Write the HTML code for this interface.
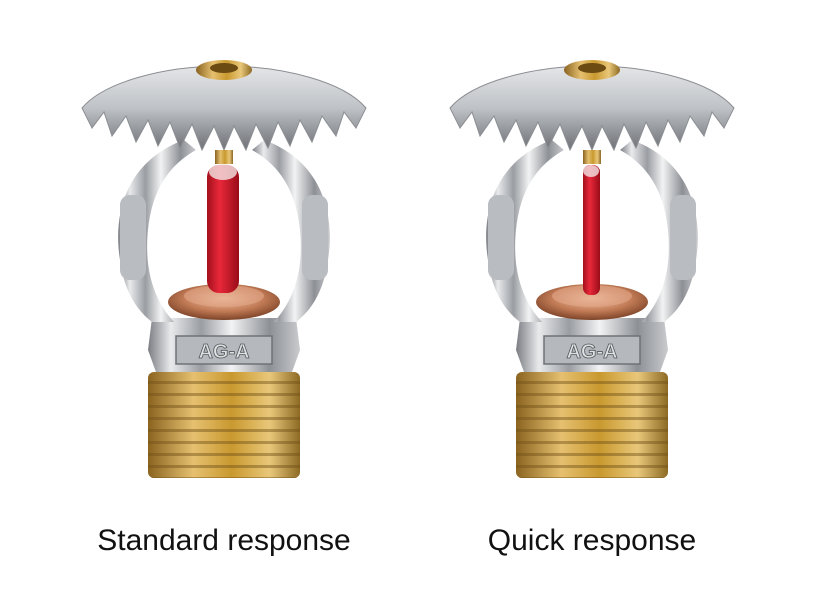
<!DOCTYPE html>
<html><head><meta charset="utf-8"><style>
html,body{margin:0;padding:0;background:#fff;}
svg{display:block;}
</style></head><body>
<svg width="833" height="600" viewBox="0 0 833 600" xmlns="http://www.w3.org/2000/svg">
<defs>
<linearGradient id="chrome" x1="0" x2="1" y1="0" y2="0">
<stop offset="0" stop-color="#7a7d82"/><stop offset="0.15" stop-color="#e8eaec"/><stop offset="0.35" stop-color="#9a9da2"/><stop offset="0.55" stop-color="#f2f3f4"/><stop offset="0.8" stop-color="#8d9095"/><stop offset="1" stop-color="#c9cbce"/>
</linearGradient>
<linearGradient id="defl" x1="0" x2="0" y1="0" y2="1">
<stop offset="0" stop-color="#e4e6e8"/><stop offset="0.5" stop-color="#bfc2c6"/><stop offset="1" stop-color="#6d7075"/>
</linearGradient>
<linearGradient id="brass" x1="0" x2="1">
<stop offset="0" stop-color="#8a6420"/><stop offset="0.3" stop-color="#e6c070"/><stop offset="0.55" stop-color="#c9992f"/><stop offset="0.8" stop-color="#e9c77a"/><stop offset="1" stop-color="#8d6a24"/>
</linearGradient>
<pattern id="threads" width="10" height="12" patternUnits="userSpaceOnUse">
<rect width="10" height="12" fill="none"/><rect y="9" width="10" height="3" fill="#6e4f16" opacity="0.45"/>
</pattern>
<linearGradient id="red" x1="0" x2="1">
<stop offset="0" stop-color="#a3101c"/><stop offset="0.4" stop-color="#e8283a"/><stop offset="1" stop-color="#9a0c18"/>
</linearGradient>
<radialGradient id="copper" cx="0.5" cy="0.4" r="0.6">
<stop offset="0" stop-color="#f3c8a8"/><stop offset="0.6" stop-color="#c17a55"/><stop offset="1" stop-color="#7d4428"/>
</radialGradient>
<g id="spr">
<!-- thread -->
<rect x="-76" y="372" width="152" height="106" rx="6" fill="url(#brass)"/>
<rect x="-76" y="372" width="152" height="106" rx="6" fill="url(#threads)"/>
<!-- body base -->
<path d="M-72 318 L72 318 L76 350 L68 372 L-68 372 L-76 350 Z" fill="url(#chrome)"/>
<rect x="-48" y="336" width="96" height="28" fill="#b5b8bc" stroke="#6f7277" stroke-width="1.5"/>
<text x="0" y="358" text-anchor="middle" font-family="Liberation Sans, sans-serif" font-size="20" font-weight="bold" fill="#dfe1e3" stroke="#55585c" stroke-width="0.8">AG-A</text>
<!-- frame arms -->
<path d="M-40 140 C-95 160 -112 210 -104 260 C-100 290 -88 310 -72 322 L-50 322 C-70 300 -80 270 -76 230 C-72 190 -55 165 -28 150 Z" fill="url(#chrome)"/>
<path d="M40 140 C95 160 112 210 104 260 C100 290 88 310 72 322 L50 322 C70 300 80 270 76 230 C72 190 55 165 28 150 Z" fill="url(#chrome)"/>
<!-- side bosses -->
<rect x="-104" y="195" width="26" height="85" rx="10" fill="#b9bcc0"/>
<rect x="78" y="195" width="26" height="85" rx="10" fill="#b9bcc0"/>
<!-- deflector -->
<path d="M-142 108 C-120 82 -60 66 0 66 C60 66 120 82 142 108 L132 128 L120 112 L112 136 L98 116 L88 142 L76 120 L66 146 L54 122 L44 148 L32 124 L22 150 L10 126 L0 150 L-10 126 L-22 150 L-32 124 L-44 148 L-54 122 L-66 146 L-76 120 L-88 142 L-98 116 L-112 136 L-120 112 L-132 128 Z" fill="url(#defl)" stroke="#8a8d92" stroke-width="1"/>
<!-- cap -->
<ellipse cx="0" cy="70" rx="28" ry="10" fill="url(#brass)"/>
<ellipse cx="0" cy="68" rx="14" ry="5" fill="#6b4b12"/>
<!-- stem -->
<rect x="-9" y="150" width="18" height="14" fill="url(#brass)"/>
<!-- copper disc -->
<ellipse cx="0" cy="302" rx="56" ry="18" fill="url(#copper)"/>
<ellipse cx="0" cy="296" rx="40" ry="11" fill="#e3a98a" opacity="0.6"/>
</g>
</defs>
<rect width="833" height="600" fill="#fff"/>
<use href="#spr" x="224" y="0"/>
<use href="#spr" x="592" y="0"/>
<!-- bulbs -->
<rect x="207" y="165" width="32" height="128" rx="12" fill="url(#red)"/>
<ellipse cx="223" cy="172" rx="14" ry="8" fill="#f3e6e6" opacity="0.8"/>
<rect x="583" y="165" width="17" height="130" rx="7" fill="url(#red)"/>
<ellipse cx="591" cy="171" rx="8" ry="6" fill="#f3e6e6" opacity="0.8"/>
<text x="224" y="550" text-anchor="middle" font-family="Liberation Sans, sans-serif" font-size="30" fill="#111">Standard response</text>
<text x="592" y="550" text-anchor="middle" font-family="Liberation Sans, sans-serif" font-size="30" fill="#111">Quick response</text>
</svg>
</body></html>
